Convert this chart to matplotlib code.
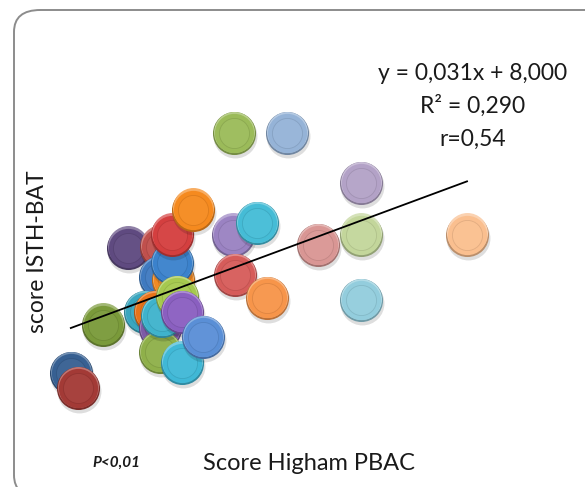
import numpy as np
import matplotlib
matplotlib.use("Agg")
import matplotlib.pyplot as plt
import matplotlib.colors as mcolors
from matplotlib.patches import FancyBboxPatch
from matplotlib.transforms import offset_copy

# ---------------------------------------------------------
# Data (PBAC score vs ISTH-BAT score)
# ---------------------------------------------------------
pbac = [21, 30, 226.5, 293.3, 386.5, 520, 386.5, 332.3, 386.5, 225.3,
        255.5, 227.8, 268.1, 93.0, 134.6, 133.3, 149.7, 148.5, 148.5, 174.9,
        114.5, 127.1, 133.3, 133.3, 135.9, 154.8, 161.1, 161.1, 187.5, 61.6]
isth = [3.9, 2.3, 29.2, 29.2, 23.9, 18.5, 18.5, 17.4, 11.6, 18.5,
        19.7, 14.2, 11.8, 17.1, 17.2, 14.0, 13.7, 15.5, 18.5, 21.1,
        10.3, 10.3, 8.65, 6.1, 9.9, 11.9, 10.3, 5.0, 7.7, 9.0]
colors = ["#376092", "#A33A36", "#9BBB59", "#95B3D7", "#B3A2C7", "#FABF8F",
          "#C3D69B", "#D99694", "#93CDDD", "#9A82C2", "#45BCD6", "#D65C5A",
          "#F7954A", "#5F4A80", "#C0504D", "#3F7AC0", "#F08A24", "#3B82CC",
          "#D43F3F", "#F58A1F", "#3AA6BF", "#E8731A", "#7D5BA6", "#8FB04A",
          "#3FB3CC", "#A6C94F", "#8A5FC0", "#40B8D6", "#5A8FD6", "#7A9A3A"]

slope, intercept = 0.031, 8.0
eq_lines = ["y = 0,031x + 8,000", "R² = 0,290", "r=0,54"]

plt.rcParams['font.family'] = ['Lato', 'DejaVu Sans']

fig = plt.figure(figsize=(5.85, 4.87), dpi=100)
fig.patch.set_facecolor("white")

# rounded chart-area border (runs off the right and bottom edges)
frame = FancyBboxPatch((14 / 585, -10 / 487), 600 / 585, 487 / 487,
                       boxstyle="round,pad=0,rounding_size=0.045",
                       transform=fig.transFigure, facecolor="none",
                       edgecolor="#8c8c8c", linewidth=1.4, clip_on=False)
fig.patches.append(frame)

ax = fig.add_axes([0, 0, 1, 1])
ax.set_xlim(-68.2, 668.6)
ax.set_ylim(-8.12, 43.25)
ax.axis("off")
ax.patch.set_alpha(0)


def shade(c, f):
    r, g, b = mcolors.to_rgb(c)
    if f < 1:
        return (r * f, g * f, b * f)
    return (r + (1 - r) * (f - 1), g + (1 - g) * (f - 1), b + (1 - b) * (f - 1))


# 3D-ish bubbles, drawn point by point so overlaps stack like Excel
for i, (x, y, c) in enumerate(zip(pbac, isth, colors)):
    z = 2 + i * 0.01
    shadow = offset_copy(ax.transData, fig=fig, x=1.0, y=-3.0, units="dots")
    up = offset_copy(ax.transData, fig=fig, x=0, y=1.5, units="dots")
    ax.scatter([x], [y], s=1000, color="#000000", alpha=0.13, transform=shadow,
               zorder=z, linewidths=0)
    ax.scatter([x], [y], s=960, color=shade(c, 0.75), zorder=z + 0.001, linewidths=0)
    ax.scatter([x], [y], s=870, color=shade(c, 1.3), transform=up,
               zorder=z + 0.002, linewidths=0)
    ax.scatter([x], [y], s=800, color=c, zorder=z + 0.003, linewidths=0)
    ax.scatter([x], [y], s=470, color=shade(c, 1.04), edgecolors=shade(c, 0.9),
               linewidths=0.6, zorder=z + 0.004)

# linear trend line over the data range
xl = np.array([min(pbac), max(pbac)])
ax.plot(xl, slope * xl + intercept, color="black", linewidth=1.3, zorder=5)

for k, t in enumerate(eq_lines):
    fig.text(473 / 585, 1 - (73 + k * 33) / 487, t, ha="center", va="center",
             fontsize=16.5, color="#1a1a1a")

fig.text(38 / 585, 1 - 252 / 487, "score ISTH-BAT", rotation=90,
         ha="center", va="center", fontsize=16.5, color="#1a1a1a")
fig.text(309 / 585, 1 - 463 / 487, "Score Higham PBAC", ha="center",
         va="center", fontsize=17, color="#1a1a1a")
fig.text(116 / 585, 1 - 463 / 487, "P<0,01", ha="center", va="center",
         fontsize=11, fontweight="bold", fontstyle="italic", color="#1a1a1a")

fig.savefig("out.png", dpi=100)
